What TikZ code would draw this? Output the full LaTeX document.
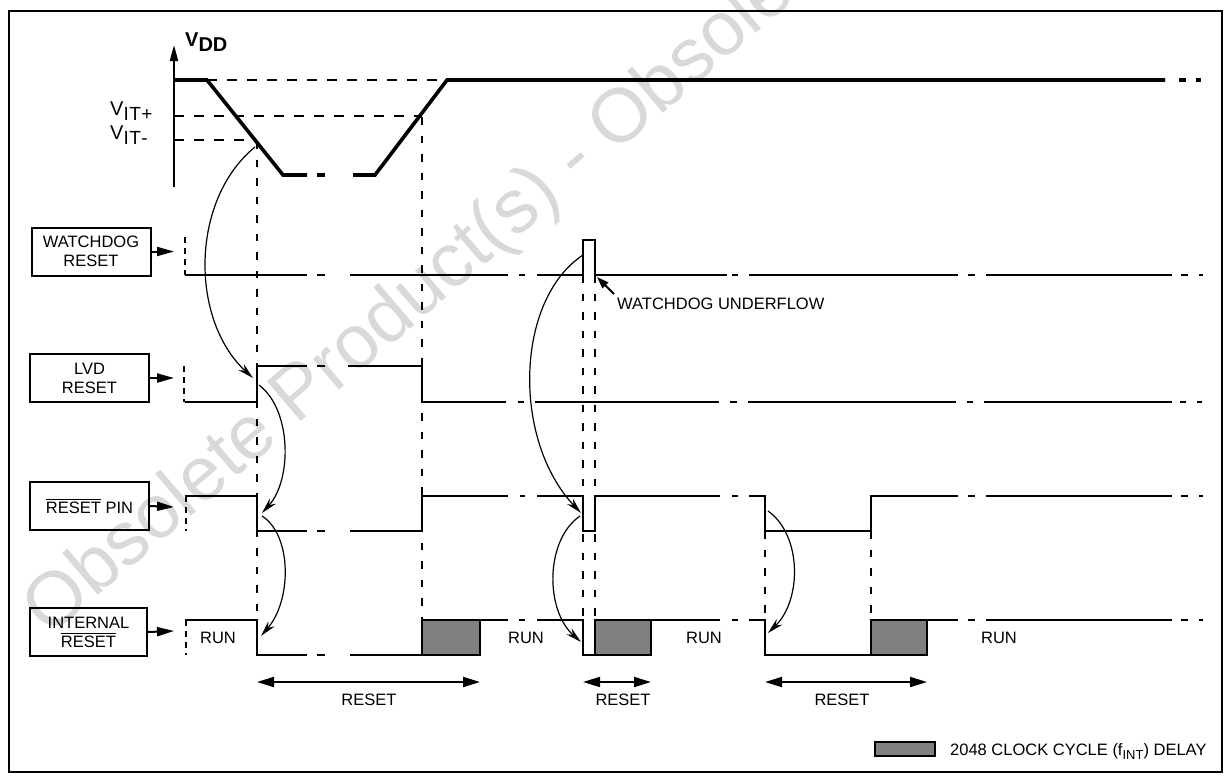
\documentclass[tikz,border=0pt]{standalone}
\usepackage{fontspec}
\setmainfont{Liberation Sans}
\usetikzlibrary{arrows.meta}
\definecolor{delaygray}{HTML}{808080}
\definecolor{wmgray}{HTML}{D9D9D9}
\newcommand\ovl[1]{\leavevmode\vbox{\hrule height 1.1pt\kern 1.8pt\hbox{#1}}}
\newcommand\lbl{\fontsize{16.5}{19}\selectfont}
\begin{document}
\begin{tikzpicture}[x=1pt,y=-1pt,line join=miter,
  sig/.style={line width=2.2pt},
  vdd/.style={line width=3.6pt},
  guide/.style={line width=1.5pt,dash pattern=on 7.5pt off 11pt},
  hguide/.style={line width=1.5pt,dash pattern=on 10pt off 10pt},
  startmark/.style={line width=1.5pt,dash pattern=on 6pt off 5pt},
  lblbox/.style={draw,line width=2pt,minimum width=119pt,minimum height=48pt,align=center,inner sep=0pt,font=\lbl},
  curv/.style={line width=1.2pt,-{Stealth[length=16pt,width=8pt]}},
  boxarr/.style={line width=2pt,-{Triangle[length=17pt,width=9pt]}},
  dbl/.style={line width=2pt,{Triangle[length=17pt,width=10pt]}-{Triangle[length=17pt,width=10pt]}},
  delay/.style={draw,line width=2pt,fill=delaygray},
  txt/.style={font=\lbl,inner sep=0pt,anchor=base}
]
\useasboundingbox (0,0) rectangle (1232,780);

% watermark
\node[rotate=40.5,text=wmgray,font=\fontsize{76}{76}\selectfont,inner sep=0pt] (wm) at (435,282) {Obsolete Product(s) - Obsolete};

% frame
\draw[line width=2pt] (9,11) rectangle (1222,772);

% VDD axis and labels
\coordinate (axb) at (174,187);
\coordinate (axt) at (174,45);
\draw[line width=2pt,-{Triangle[length=16pt,width=8pt]}] (axb) -- (axt);
\node[anchor=base west,inner sep=0pt] (vddl) at (185,46) {\fontsize{20}{20}\selectfont\bfseries V\raisebox{-5pt}{DD}};
\node[anchor=base west,inner sep=0pt] (vitp) at (110,115) {\fontsize{20}{20}\selectfont V\raisebox{-5pt}{\fontsize{19}{19}\selectfont I\kern0.5pt T\kern0.5pt+}};
\node[anchor=base west,inner sep=0pt] (vitm) at (110,139) {\fontsize{20}{20}\selectfont V\raisebox{-5pt}{\fontsize{19}{19}\selectfont I\kern0.5pt T\kern0.5pt-}};

% guide lines
\draw[hguide] (207,80) -- (447,80);
\draw[hguide] (174,116) -- (422,116);
\draw[hguide] (174,140) -- (257,140);
\draw[guide] (257,141) -- (257,620);
\draw[guide] (422,117) -- (422,620);
\draw[guide] (583,275) -- (583,620);
\draw[guide] (595,275) -- (595,620);
\draw[guide] (765,531) -- (765,620);
\draw[guide] (871,531) -- (871,620);

% VDD waveform
\draw[vdd] (174,80) -- (207,80) -- (283,175) -- (307,175);
\draw[vdd] (317,175) -- (325,175);
\draw[vdd] (353,175) -- (375,175) -- (447,80) -- (1165,80);
\draw[vdd] (1179,80) -- (1186,80);
\draw[vdd] (1196,80) -- (1201,80);

% start marks
\draw[startmark] (185,237) -- (185,275);
\draw[startmark] (184,366) -- (184,402);
\draw[startmark] (186,496) -- (186,531);
\draw[startmark] (186,620) -- (186,655);

% WATCHDOG RESET signal
\draw[sig] (185,275) -- (307,275);
\draw[sig] (317,275) -- (325,275);
\draw[sig] (350,275) -- (508,275);
\draw[sig] (519,275) -- (525,275);
\draw[sig] (537,275) -- (583,275) -- (583,240) -- (595,240) -- (595,275) -- (727,275);
\draw[sig] (732,275) -- (738,275);
\draw[sig] (749,275) -- (958,275);
\draw[sig] (968,275) -- (975,275);
\draw[sig] (986,275) -- (1172,275);
\draw[sig] (1181,275) -- (1188,275);
\draw[sig] (1199,275) -- (1203,275);

% LVD RESET signal
\draw[sig] (185,402) -- (257,402) -- (257,366) -- (307,366);
\draw[sig] (317,366) -- (325,366);
\draw[sig] (348,366) -- (422,366) -- (422,402) -- (506,402);
\draw[sig] (518,402) -- (524,402);
\draw[sig] (535,402) -- (719,402);
\draw[sig] (730,402) -- (737,402);
\draw[sig] (748,402) -- (956,402);
\draw[sig] (967,402) -- (973,402);
\draw[sig] (984,402) -- (1172,402);
\draw[sig] (1180,402) -- (1186,402);
\draw[sig] (1197,402) -- (1202,402);

% RESET PIN signal
\draw[sig] (185,496) -- (257,496) -- (257,531) -- (307,531);
\draw[sig] (317,531) -- (325,531);
\draw[sig] (350,531) -- (422,531) -- (422,496) -- (508,496);
\draw[sig] (520,496) -- (525,496);
\draw[sig] (537,496) -- (583,496) -- (583,531) -- (595,531) -- (595,496) -- (720,496);
\draw[sig] (732,496) -- (738,496);
\draw[sig] (749,496) -- (765,496) -- (765,531) -- (871,531) -- (871,496) -- (958,496);
\draw[sig] (968,496) -- (975,496);
\draw[sig] (986,496) -- (1172,496);
\draw[sig] (1181,496) -- (1188,496);
\draw[sig] (1199,496) -- (1203,496);

% INTERNAL RESET signal
\draw[sig] (185,620) -- (257,620) -- (257,655) -- (307,655);
\draw[sig] (317,655) -- (325,655);
\draw[sig] (350,655) -- (422,655);
\draw[delay] (422,620) rectangle (480,655);
\draw[sig] (480,620) -- (508,620);
\draw[sig] (519,620) -- (525,620);
\draw[sig] (537,620) -- (583,620) -- (583,655) -- (595,655);
\draw[delay] (595,620) rectangle (651,655);
\draw[sig] (651,620) -- (720,620);
\draw[sig] (732,620) -- (738,620);
\draw[sig] (749,620) -- (765,620) -- (765,655) -- (871,655);
\draw[delay] (871,620) rectangle (927,655);
\draw[sig] (927,620) -- (958,620);
\draw[sig] (968,620) -- (975,620);
\draw[sig] (986,620) -- (1172,620);
\draw[sig] (1181,620) -- (1188,620);
\draw[sig] (1199,620) -- (1203,620);

% label boxes
\node[lblbox] (wd) at (91,251.5) {WATCHDOG\\RESET};
\node[lblbox] (lvd) at (89.5,378) {LVD\\RESET};
\node[lblbox] (rp) at (89.5,506) {\ovl{RESET} PIN};
\node[lblbox,minimum width=117pt] (ir) at (88.5,632) {INTERNAL\\\ovl{RESET}};
\coordinate (wdin) at (174,251.5);
\coordinate (lvdin) at (174,378);
\coordinate (rpin) at (174,507);
\coordinate (irin) at (174,631);
\draw[boxarr] (wd.east) -- (wdin);
\draw[boxarr] (lvd.east) -- (lvdin);
\draw[boxarr] (rp.east) -- (rpin);
\draw[boxarr] (ir.east) -- (irin);

% causal curves
\coordinate (c1s) at (255,147); \coordinate (c1e) at (253,378);
\draw[curv] (c1s) .. controls (190,200) and (190,320) .. (c1e);
\coordinate (c2s) at (259,385); \coordinate (c2e) at (262,513);
\draw[curv] (c2s) .. controls (292,410) and (292,480) .. (c2e);
\coordinate (c3s) at (262,516); \coordinate (c3e) at (261,636);
\draw[curv] (c3s) .. controls (292,535) and (292,600) .. (c3e);
\coordinate (c4s) at (583,255); \coordinate (c4e) at (581,513);
\draw[curv] (c4s) .. controls (515,300) and (512,440) .. (c4e);
\coordinate (c5s) at (580,516); \coordinate (c5e) at (581,642);
\draw[curv] (c5s) .. controls (545,540) and (545,610) .. (c5e);
\coordinate (c6s) at (768,511); \coordinate (c6e) at (768,633);
\draw[curv] (c6s) .. controls (802,535) and (802,600) .. (c6e);

% watchdog underflow
\node[txt,anchor=base west] (uf) at (617,309) {WATCHDOG UNDERFLOW};
\coordinate (uftail) at (614,294);
\coordinate (uftip) at (597,277);
\draw[line width=2pt,-{Triangle[length=12pt,width=8pt]}] (uftail) -- (uftip);

% RUN labels
\node[txt] (run1) at (218,643) {RUN};
\node[txt] (run2) at (526,643) {RUN};
\node[txt] (run3) at (704,643) {RUN};
\node[txt] (run4) at (999,643) {RUN};

% RESET spans
\coordinate (r1a) at (257,682); \coordinate (r1b) at (480,682);
\coordinate (r2a) at (583,682); \coordinate (r2b) at (651,682);
\coordinate (r3a) at (765,682); \coordinate (r3b) at (927,682);
\draw[dbl] (r1a) -- (r1b);
\draw[dbl] (r2a) -- (r2b);
\draw[dbl] (r3a) -- (r3b);
\node[txt] (rs1) at (369,705) {RESET};
\node[txt] (rs2) at (623,705) {RESET};
\node[txt] (rs3) at (842,705) {RESET};

% legend
\draw[delay] (875,742) rectangle (935,756);
\node[txt,anchor=base west] (leg) at (950,755.5) {2048 CLOCK CYCLE (f\raisebox{-3.5pt}{\fontsize{13}{13}\selectfont INT}) DELAY};
\end{tikzpicture}
\end{document}
